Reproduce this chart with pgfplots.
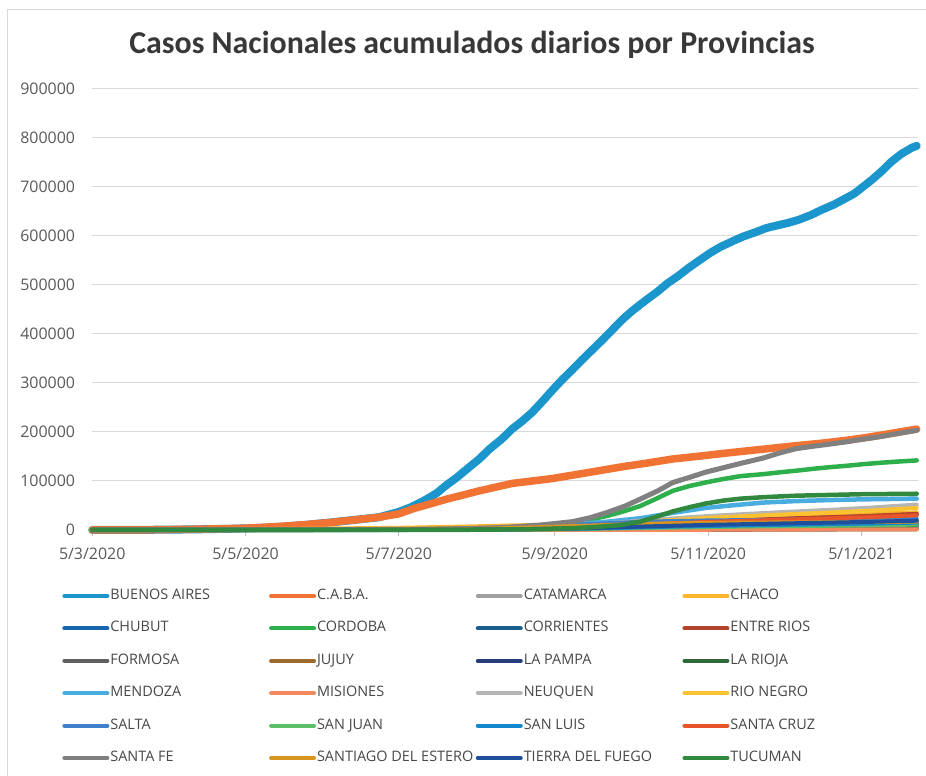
\documentclass[border=0pt]{standalone}
\usepackage{fontspec}
\setmainfont{Open Sans}
\newfontfamily\titlefont{Carlito}
\usepackage{pgfplots}
\pgfplotsset{compat=1.18}

\definecolor{bacol}{HTML}{1B96CD}
\definecolor{cabacol}{HTML}{F07334}
\definecolor{catacol}{HTML}{A0A0A0}
\definecolor{chacocol}{HTML}{FDB52B}
\definecolor{chubcol}{HTML}{1565B0}
\definecolor{cordcol}{HTML}{2DB04B}
\definecolor{corrcol}{HTML}{1B5E8E}
\definecolor{entrecol}{HTML}{B3432B}
\definecolor{formcol}{HTML}{5F5F5F}
\definecolor{jujcol}{HTML}{9B6B2B}
\definecolor{lpamcol}{HTML}{253F7B}
\definecolor{lriocol}{HTML}{2E6B38}
\definecolor{mendcol}{HTML}{4AADDF}
\definecolor{miscol}{HTML}{F4895D}
\definecolor{neucol}{HTML}{B5B5B5}
\definecolor{rncol}{HTML}{FDC232}
\definecolor{saltcol}{HTML}{407FC9}
\definecolor{sjcol}{HTML}{5CBE67}
\definecolor{slcol}{HTML}{1587CC}
\definecolor{sccol}{HTML}{E9552B}
\definecolor{sfcol}{HTML}{808080}
\definecolor{sdecol}{HTML}{D8951F}
\definecolor{tdfcol}{HTML}{1F4F9A}
\definecolor{tuccol}{HTML}{30893F}
\definecolor{txtcol}{HTML}{595959}

\newcommand\legtxt[1]{\makebox[150.7bp][l]{#1}}

\begin{document}
\begin{tikzpicture}
\useasboundingbox (0,0) rectangle (926bp,776bp);
\draw[black!15, line width=1bp] (7bp,0bp) -- (7bp,766bp) -- (926bp,766bp);
\node[font=\titlefont\bfseries\fontsize{32}{36}\selectfont, text=black!78] at (472bp,731bp) {Casos Nacionales acumulados diarios por Provincias};

\begin{axis}[
    at={(92.2bp,246bp)}, anchor=south west,
    scale only axis, width=825.8bp, height=441bp,
    xmin=0, xmax=328.5, ymin=0, ymax=900000,
    clip=false,
    scaled y ticks=false,
    axis x line*=bottom, axis y line*=left,
    y axis line style={draw=none},
    x axis line style={draw=black!25, line width=1bp},
    ytick style={draw=none},
    xtick style={draw=black!25, line width=1bp},
    tick align=outside, major tick length=6bp,
    ymajorgrids, grid style={draw=black!15, line width=1bp},
    xtick={0,61,122,184,245,306},
    xticklabels={5/3/2020,5/5/2020,5/7/2020,5/9/2020,5/11/2020,5/1/2021},
    ytick={0,100000,200000,300000,400000,500000,600000,700000,800000,900000},
    yticklabels={0,100000,200000,300000,400000,500000,600000,700000,800000,900000},
    x tick label style={font=\fontsize{16}{19}\selectfont, text=txtcol, inner sep=0pt, anchor=north, yshift=-12bp},
    y tick label style={font=\fontsize{16}{19}\selectfont, text=txtcol, inner sep=0pt, anchor=east, xshift=-11bp},
    every axis plot/.append style={line join=round, line cap=round, line width=4bp},
    legend columns=4,
    legend cell align=left,
    legend image code/.code={\draw[#1, line width=4bp] (0bp,0bp) -- (43bp,0bp);},
    legend style={draw=none, fill=none, at={(-0.04,-0.13)}, anchor=north west,
        font=\fontsize{14.5}{16}\selectfont, text=black!72,
        nodes={inner sep=0pt, text height=10bp, text depth=3bp},
        row sep=19.4bp,
        /tikz/every odd column/.append style={column sep=1bp},
        /tikz/every even column/.append style={column sep=8bp}},
]
% BUENOS AIRES
\addplot[bacol, line width=8bp] coordinates {(0,0)(20,300)(40,1200)(55,2500)(65,4000)(75,6500)(85,10500)(95,15500)(105,21000)(114,26000)(122,37000)(127,47000)(132,60000)(137,75000)(141,92000)(145,107000)(149,124000)(154,145000)(158,165000)(163,186000)(167,206000)(171,222000)(175,240000)(179,262000)(183,285000)(187,307000)(191,327000)(195,348000)(199,368000)(203,388000)(207,409000)(211,430000)(215,448000)(220,468000)(225,487000)(229,504000)(233,518000)(237,534000)(242,552000)(246,566000)(250,578000)(255,590000)(259,599000)(264,608000)(268,616000)(272,621000)(277,627000)(281,633000)(286,643000)(290,653000)(295,664000)(299,675000)(303,686000)(306,698000)(310,714000)(314,732000)(318,752000)(322,768000)(326,780000)(328,784000)};
\addlegendentry{\legtxt{BUENOS AIRES}}
% C.A.B.A.
\addplot[cabacol, line width=7.5bp] coordinates {(0,0)(20,300)(40,1500)(55,2800)(65,4500)(75,7500)(85,11000)(95,15500)(105,21000)(114,26000)(122,33000)(128,44000)(135,54000)(141,63000)(148,72000)(154,80000)(161,88000)(167,95000)(175,100000)(183,105000)(190,111000)(197,117000)(205,124000)(212,130000)(220,136000)(231,145000)(242,151000)(254,158000)(267,165000)(280,172000)(290,177000)(300,183000)(307,188000)(313,193000)(320,199000)(328,206000)};
\addlegendentry{\legtxt{C.A.B.A.}}
% CATAMARCA
\addplot[catacol] coordinates {(0,0)(120,20)(150,100)(180,300)(200,600)(220,1200)(245,1900)(270,2600)(295,3200)(310,3600)(328,4000)};
\addlegendentry{\legtxt{CATAMARCA}}
% CHACO
\addplot[chacocol] coordinates {(0,0)(30,300)(60,1400)(90,2900)(120,4300)(150,7200)(180,10800)(200,13700)(220,17300)(245,21600)(270,25900)(295,30600)(310,33100)(328,36000)};
\addlegendentry{\legtxt{CHACO}}
% CHUBUT
\addplot[chubcol] coordinates {(0,0)(120,640)(150,1600)(180,3800)(200,7000)(220,12200)(245,17600)(270,21800)(295,25600)(310,28200)(328,32000)};
\addlegendentry{\legtxt{CHUBUT}}
% CORDOBA
\addplot[cordcol, line width=4.5bp] coordinates {(0,0)(100,500)(130,1000)(150,2000)(165,4500)(178,8000)(185,11000)(191,15000)(198,21000)(205,29000)(212,39000)(218,49000)(224,63000)(231,80000)(237,89000)(244,97000)(251,104000)(258,110000)(267,114000)(274,118000)(280,121000)(287,125000)(293,128000)(300,131000)(306,134000)(313,137000)(320,139500)(328,142000)};
\addlegendentry{\legtxt{CORDOBA}}
% CORRIENTES
\addplot[corrcol] coordinates {(0,0)(120,160)(150,400)(180,950)(200,1750)(220,3000)(245,4400)(270,5450)(295,6400)(310,7050)(328,8000)};
\addlegendentry{\legtxt{CORRIENTES}}
% ENTRE RIOS
\addplot[entrecol] coordinates {(0,0)(120,700)(150,1700)(180,4000)(200,7300)(220,12500)(245,18200)(270,22400)(295,26400)(310,29000)(328,33000)};
\addlegendentry{\legtxt{ENTRE RIOS}}
% FORMOSA
\addplot[formcol] coordinates {(0,0)(120,80)(150,100)(180,130)(200,150)(220,200)(245,300)(270,600)(295,1000)(310,1250)(328,1500)};
\addlegendentry{\legtxt{FORMOSA}}
% JUJUY
\addplot[jujcol] coordinates {(0,0)(120,370)(150,1900)(180,6500)(200,10200)(220,13900)(245,15700)(270,16600)(295,17400)(310,17900)(328,18500)};
\addlegendentry{\legtxt{JUJUY}}
% LA PAMPA
\addplot[lpamcol] coordinates {(0,0)(120,240)(150,600)(180,1450)(200,2650)(220,4550)(245,6600)(270,8150)(295,9600)(310,10550)(328,12000)};
\addlegendentry{\legtxt{LA PAMPA}}
% LA RIOJA
\addplot[lriocol] coordinates {(0,0)(120,190)(150,950)(180,3300)(200,5200)(220,7100)(245,8100)(270,8550)(295,8900)(310,9200)(328,9500)};
\addlegendentry{\legtxt{LA RIOJA}}
% MENDOZA
\addplot[mendcol, line width=4.5bp] coordinates {(0,0)(120,300)(150,1500)(175,6000)(190,11000)(205,17000)(218,24000)(231,35000)(244,45000)(254,50000)(267,56000)(280,59000)(293,61000)(306,62500)(328,64000)};
\addlegendentry{\legtxt{MENDOZA}}
% MISIONES
\addplot[miscol] coordinates {(0,0)(120,40)(150,60)(180,100)(200,150)(220,250)(245,500)(270,800)(295,1100)(310,1300)(328,1500)};
\addlegendentry{\legtxt{MISIONES}}
% NEUQUEN
\addplot[neucol] coordinates {(0,0)(120,1000)(150,2600)(180,6200)(200,11400)(220,19800)(245,28600)(270,35400)(295,41600)(310,45800)(328,52000)};
\addlegendentry{\legtxt{NEUQUEN}}
% RIO NEGRO
\addplot[rncol] coordinates {(0,0)(120,900)(150,2300)(180,5400)(200,9900)(220,17100)(245,24800)(270,30600)(295,36000)(310,39600)(328,45000)};
\addlegendentry{\legtxt{RIO NEGRO}}
% SALTA
\addplot[saltcol] coordinates {(0,0)(120,460)(150,2300)(180,8000)(200,12600)(220,17200)(245,19500)(270,20700)(295,21600)(310,22300)(328,23000)};
\addlegendentry{\legtxt{SALTA}}
% SAN JUAN
\addplot[sjcol] coordinates {(0,0)(120,220)(150,550)(180,1300)(200,2400)(220,4200)(245,6050)(270,7500)(295,8800)(310,9700)(328,11000)};
\addlegendentry{\legtxt{SAN JUAN}}
% SAN LUIS
\addplot[slcol] coordinates {(0,0)(120,300)(150,750)(180,1800)(200,3300)(220,5700)(245,8250)(270,10200)(295,12000)(310,13200)(328,15000)};
\addlegendentry{\legtxt{SAN LUIS}}
% SANTA CRUZ
\addplot[sccol] coordinates {(0,0)(120,600)(150,1500)(180,3600)(200,6600)(220,11400)(245,16500)(270,20400)(295,24000)(310,26400)(328,30000)};
\addlegendentry{\legtxt{SANTA CRUZ}}
% SANTA FE
\addplot[sfcol, line width=5bp] coordinates {(0,0)(60,300)(100,600)(130,1500)(150,3000)(165,5500)(178,10000)(191,17000)(198,25000)(205,36000)(212,49000)(218,63000)(225,80000)(231,97000)(238,108000)(244,118000)(251,127000)(258,136000)(267,147000)(274,158000)(280,166000)(287,171000)(293,175000)(300,180000)(306,185000)(313,190000)(320,196500)(328,203500)};
\addlegendentry{\legtxt{SANTA FE}}
% SANTIAGO DEL ESTERO
\addplot[sdecol] coordinates {(0,0)(120,340)(150,1700)(180,6000)(200,9400)(220,12800)(245,14500)(270,15300)(295,16000)(310,16500)(328,17000)};
\addlegendentry{\legtxt{SANTIAGO DEL ESTERO}}
% TIERRA DEL FUEGO
\addplot[tdfcol] coordinates {(0,0)(120,380)(150,950)(180,2300)(200,4200)(220,7200)(245,10500)(270,12900)(295,15200)(310,16700)(328,19000)};
\addlegendentry{\legtxt{TIERRA DEL FUEGO}}
% TUCUMAN
\addplot[tuccol, line width=4.5bp] coordinates {(0,0)(150,500)(175,1500)(190,3500)(200,6000)(210,10000)(218,17000)(225,28000)(231,38000)(238,47000)(244,54000)(251,60000)(258,64000)(267,67000)(280,70000)(293,71500)(306,73000)(328,74000)};
\addlegendentry{\legtxt{TUCUMAN}}
\end{axis}
\end{tikzpicture}
\end{document}
